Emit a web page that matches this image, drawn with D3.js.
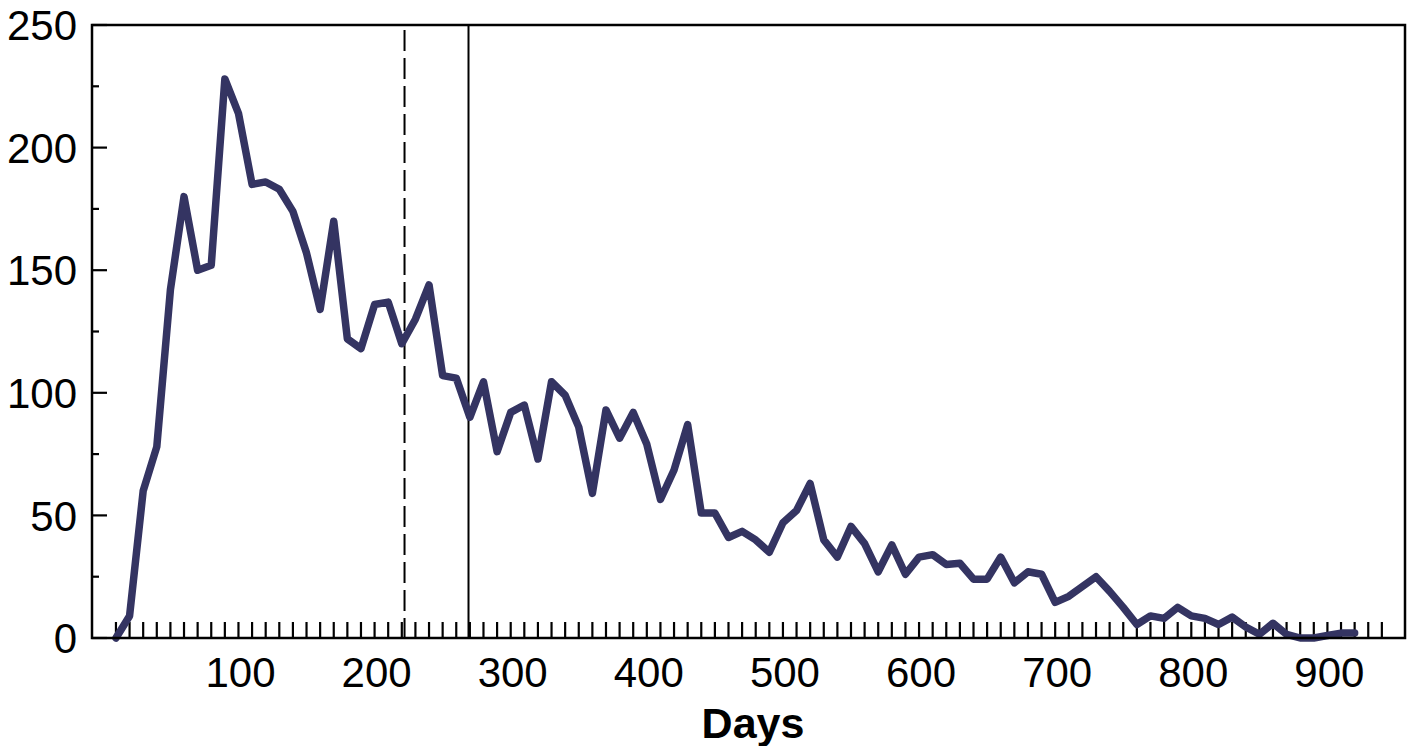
<!DOCTYPE html>
<html lang="en">
<head>
    <meta charset="UTF-8">
    <title>Days line chart</title>
    <script src="https://d3js.org/d3.v7.min.js"></script>
    <style>
        body { margin: 0; background: #fff; font-family: "Liberation Sans", Arial, sans-serif; }
    </style>
</head>
<body>
    <div id="chart"></div>
    <script>
        // data
        var days = [10, 20, 30, 40, 50, 60, 70, 80, 90, 100,
            110, 120, 130, 140, 150, 160, 170, 180, 190, 200,
            210, 220, 230, 240, 250, 260, 270, 280, 290, 300,
            310, 320, 330, 340, 350, 360, 370, 380, 390, 400,
            410, 420, 430, 440, 450, 460, 470, 480, 490, 500,
            510, 520, 530, 540, 550, 560, 570, 580, 590, 600,
            610, 620, 630, 640, 650, 660, 670, 680, 690, 700,
            710, 720, 730, 740, 750, 760, 770, 780, 790, 800,
            810, 820, 830, 840, 850, 860, 870, 880, 890, 900,
            910, 920];
        var values = [0, 9, 60, 78, 142, 180, 150, 152, 228, 214,
            185, 186, 183, 174, 157, 134, 170, 122, 118, 136,
            137, 120, 130, 144, 107, 106, 90, 104.5, 76, 92,
            95, 73, 104.5, 99, 86, 59, 93, 81.5, 92, 79,
            56.5, 68.5, 87, 51, 51, 41, 43.5, 40, 35, 47,
            52, 63, 40, 33, 45.5, 38.5, 27, 38, 26, 33,
            34, 30, 30.5, 24, 24, 33, 22.5, 27, 26, 14.5,
            17, 21, 25, 19, 12.5, 5.5, 9, 8, 12.5, 9,
            8, 5.5, 8.5, 4.5, 1.5, 6, 1.5, 0, 0, 1,
            2, 2];
        var xTickLabels = [100, 200, 300, 400, 500, 600, 700, 800, 900];
        var yTickLabels = [0, 50, 100, 150, 200, 250];
        var dashedDay = 222;
        var solidDay = 269;

        var W = 1408, H = 746;
        var plotL = 92, plotR = 1405, plotT = 25, plotB = 638;

        var svg = d3.select("#chart").append("svg")
            .attr("width", W)
            .attr("height", H);

        var x = d3.scaleLinear().domain([-7.6, 957]).range([plotL, plotR]);
        var y = d3.scaleLinear().domain([0, 250]).range([plotB, plotT]);

        // minor x ticks every 10 days, pointing inward
        var xTicks = d3.range(10, 941, 10);
        svg.append("g")
            .selectAll("line")
            .data(xTicks)
            .enter().append("line")
            .attr("x1", d => x(d)).attr("x2", d => x(d))
            .attr("y1", plotB).attr("y2", plotB - 16)
            .attr("stroke", "#000").attr("stroke-width", 2.2);

        // y ticks: major every 50, minor every 25
        var yTicks = d3.range(0, 251, 25);
        svg.append("g")
            .selectAll("line")
            .data(yTicks)
            .enter().append("line")
            .attr("x1", plotL)
            .attr("x2", d => plotL + (d % 50 === 0 ? 15 : 7))
            .attr("y1", d => y(d)).attr("y2", d => y(d))
            .attr("stroke", "#000").attr("stroke-width", 2.2);

        // tick labels
        svg.append("g")
            .selectAll("text")
            .data(xTickLabels)
            .enter().append("text")
            .attr("x", d => x(d) + 2)
            .attr("y", 687)
            .attr("text-anchor", "middle")
            .style("font-size", "42px")
            .text(d => d);

        svg.append("g")
            .selectAll("text")
            .data(yTickLabels)
            .enter().append("text")
            .attr("x", 77)
            .attr("y", d => y(d))
            .attr("dy", "0.36em")
            .attr("text-anchor", "end")
            .style("font-size", "42px")
            .text(d => d);

        // axis title
        svg.append("text")
            .attr("x", 753)
            .attr("y", 738)
            .attr("text-anchor", "middle")
            .style("font-size", "43px")
            .style("font-weight", "bold")
            .text("Days");

        // reference lines
        svg.append("line")
            .attr("x1", x(dashedDay)).attr("x2", x(dashedDay))
            .attr("y1", 30).attr("y2", plotB)
            .attr("stroke", "#000").attr("stroke-width", 2)
            .attr("stroke-dasharray", "21,7");
        svg.append("line")
            .attr("x1", x(solidDay)).attr("x2", x(solidDay))
            .attr("y1", plotT).attr("y2", plotB)
            .attr("stroke", "#000").attr("stroke-width", 2);

        // data line
        var pts = days.map((d, i) => [d, values[i]]);
        svg.append("path")
            .datum(pts)
            .attr("fill", "none")
            .attr("stroke", "#343462")
            .attr("stroke-width", 7.5)
            .attr("stroke-linejoin", "round")
            .attr("stroke-linecap", "round")
            .attr("d", d3.line().x(d => x(d[0])).y(d => y(d[1])));

        // frame
        svg.append("rect")
            .attr("x", plotL).attr("y", plotT)
            .attr("width", plotR - plotL).attr("height", plotB - plotT)
            .attr("fill", "none")
            .attr("stroke", "#000").attr("stroke-width", 2.5);
    </script>
</body>
</html>
